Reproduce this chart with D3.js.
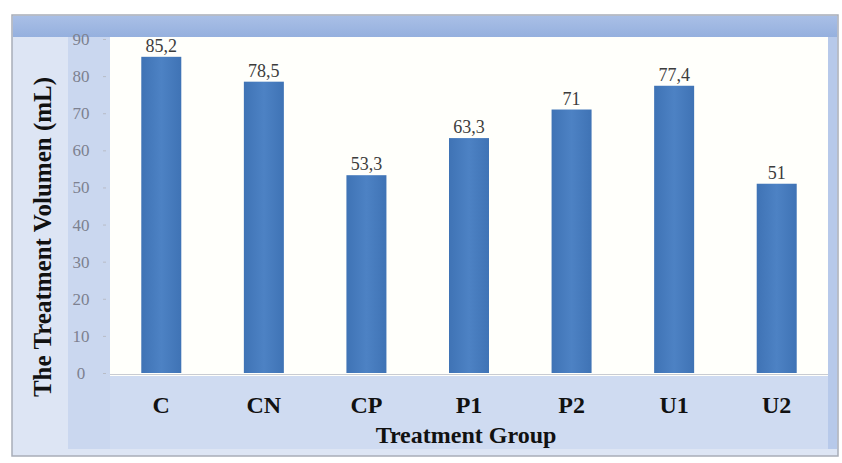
<!DOCTYPE html>
<html>
<head>
<meta charset="utf-8">
<script src="https://cdn.jsdelivr.net/npm/d3@7"></script>
<style>
  html, body { margin: 0; padding: 0; background: #ffffff; }
  svg { display: block; }
</style>
</head>
<body>
<script>
// Treatment volume per group
const categories = ["C", "CN", "CP", "P1", "P2", "U1", "U2"];
const volumes = [85.2, 78.5, 53.3, 63.3, 71, 77.4, 51];
const valueLabels = ["85,2", "78,5", "53,3", "63,3", "71", "77,4", "51"];
const yTicks = [0, 10, 20, 30, 40, 50, 60, 70, 80, 90];

const W = 842, H = 463;
const plot = { left: 110, right: 828, top: 37, bottom: 376 };

const svg = d3.select("body").append("svg")
  .attr("width", W).attr("height", H);

const defs = svg.append("defs");
const topGrad = defs.append("linearGradient").attr("id", "topBand")
  .attr("x1", 0).attr("y1", 0).attr("x2", 0).attr("y2", 1);
topGrad.append("stop").attr("offset", "0%").attr("stop-color", "#a9bfe6");
topGrad.append("stop").attr("offset", "100%").attr("stop-color", "#95b0de");

const barGrad = defs.append("linearGradient").attr("id", "barFill")
  .attr("x1", 0).attr("y1", 0).attr("x2", 1).attr("y2", 0);
barGrad.append("stop").attr("offset", "0%").attr("stop-color", "#3f73b5");
barGrad.append("stop").attr("offset", "50%").attr("stop-color", "#4d82c4");
barGrad.append("stop").attr("offset", "100%").attr("stop-color", "#3f73b5");

// chart frame
svg.append("rect").attr("x", 12).attr("y", 15).attr("width", 826).attr("height", 441)
  .attr("fill", "#dde5f4").attr("stroke", "#a8adb8").attr("stroke-width", 1.5);
svg.append("rect").attr("x", 13).attr("y", 16).attr("width", 824).attr("height", 21)
  .attr("fill", "url(#topBand)");
svg.append("rect").attr("x", 68).attr("y", 37).attr("width", 42).attr("height", 412)
  .attr("fill", "#cad7ef");
svg.append("rect").attr("x", 828).attr("y", 37).attr("width", 9).attr("height", 412)
  .attr("fill", "#b7c9ea");
svg.append("rect").attr("x", plot.left).attr("y", plot.bottom)
  .attr("width", plot.right - plot.left).attr("height", 73)
  .attr("fill", "#cfdbf1");

// plot area
svg.append("rect").attr("x", plot.left).attr("y", plot.top)
  .attr("width", plot.right - plot.left).attr("height", plot.bottom - plot.top)
  .attr("fill", "#fffffb");

const x = d3.scaleBand().domain(categories)
  .range([plot.left, plot.right]).paddingInner(0.61).paddingOuter(0.305);
const y = d3.scaleLinear().domain([0, 90]).range([373, 39]);

// y axis
const yAxis = svg.append("g").attr("transform", `translate(${plot.left - 4},0)`)
  .call(d3.axisLeft(y).tickValues(yTicks).tickSize(3).tickPadding(12));
yAxis.select(".domain").remove();
yAxis.selectAll(".tick line").attr("stroke", "#b8bcc6");
yAxis.selectAll(".tick text")
  .attr("font-family", "'Liberation Serif', serif").attr("font-size", 17)
  .attr("fill", "#7d8190").attr("text-anchor", "middle").attr("dx", -10);

// x axis line
svg.append("line").attr("x1", plot.left).attr("x2", plot.right)
  .attr("y1", 374.5).attr("y2", 374.5)
  .attr("stroke", "#c9ccd2").attr("stroke-width", 1);

// bars
svg.append("g").selectAll("rect").data(categories).join("rect")
  .attr("x", d => x(d))
  .attr("width", x.bandwidth())
  .attr("y", (d, i) => y(volumes[i]))
  .attr("height", (d, i) => y(0) - y(volumes[i]))
  .attr("fill", "url(#barFill)");

// value labels
svg.append("g").selectAll("text").data(categories).join("text")
  .attr("x", d => x(d) + x.bandwidth() / 2)
  .attr("y", (d, i) => y(volumes[i]) - 5)
  .attr("text-anchor", "middle")
  .attr("font-family", "'Liberation Serif', serif").attr("font-size", 18)
  .attr("fill", "#3c3c3c")
  .text((d, i) => valueLabels[i]);

// category labels
svg.append("g").selectAll("text").data(categories).join("text")
  .attr("x", d => x(d) + x.bandwidth() / 2)
  .attr("y", 413)
  .attr("text-anchor", "middle")
  .attr("font-family", "'Liberation Serif', serif").attr("font-size", 24)
  .attr("font-weight", "bold").attr("fill", "#111")
  .text(d => d);

// axis titles
svg.append("text").attr("x", 466).attr("y", 443)
  .attr("text-anchor", "middle")
  .attr("font-family", "'Liberation Serif', serif").attr("font-size", 24)
  .attr("font-weight", "bold").attr("fill", "#111")
  .text("Treatment Group");

svg.append("text")
  .attr("transform", "translate(51,237) rotate(-90)")
  .attr("text-anchor", "middle")
  .attr("font-family", "'Liberation Serif', serif").attr("font-size", 25)
  .attr("font-weight", "bold").attr("fill", "#111")
  .text("The Treatment Volumen (mL)");
</script>
</body>
</html>
